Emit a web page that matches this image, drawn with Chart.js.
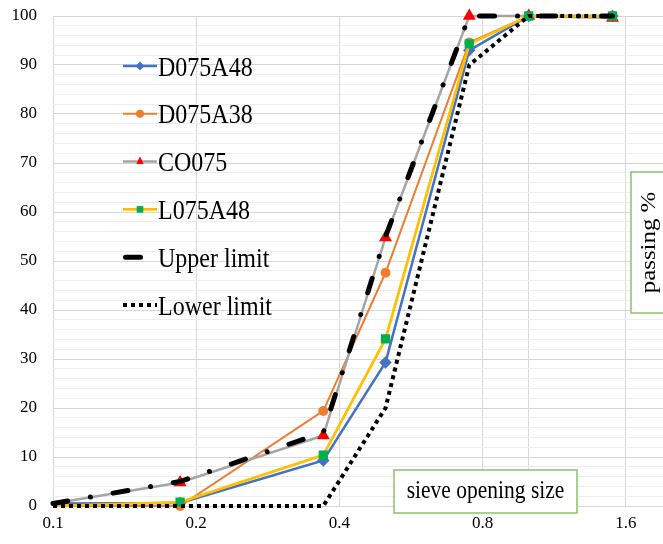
<!DOCTYPE html>
<html>
<head>
<meta charset="utf-8">
<title>Grading curves</title>
<script src="https://cdn.jsdelivr.net/npm/chart.js@4/dist/chart.umd.min.js"></script>
<style>
  html, body { margin: 0; padding: 0; background: #ffffff; overflow: hidden; }
  #wrap { width: 671px; height: 544px; }
</style>
</head>
<body>
<div id="wrap"><canvas id="chart" width="671" height="544"></canvas></div>
<script>
// Sieve opening sizes (mm) and percent passing for each mix
const sieveSizes = [0.1, 0.185, 0.37, 0.5, 0.75, 1.0, 1.5];
const D075A48 = [0.5, 0.6, 9.3, 29.3, 93, 100, 100];
const D075A38 = [0, 0, 19.4, 47.6, 94.6, 100, 100];
const CO075 = [0.5, 4.8, 14.4, 54.8, 100, 100, 99.6];
const L075A48 = [0, 0.8, 10.4, 34.1, 94.3, 100, 100];
const upperLimit = [0.5, 5, 15, 55, 100, 100, 100];
const lowerLimit = [0, 0, 0, 20, 90, 100, 100];

// Axis ticks
const xTickLabels = [0.1, 0.2, 0.4, 0.8, 1.6];
const xGridExtra = [1.0];
const yTickLabels = [0, 10, 20, 30, 40, 50, 60, 70, 80, 90, 100];

const SERIF = "'Liberation Serif', 'Times New Roman', serif";

function pts(values) {
  return sieveSizes.map((s, i) => ({ x: s, y: values[i] }));
}
// no marker on the first sieve, where the curves start on the axis
const hideFirst = (r) => (ctx) => (ctx.dataIndex === 0 ? 0 : r);

const datasets = [
  {
    label: 'D075A48', data: pts(D075A48), order: 5,
    borderColor: '#4472C4', backgroundColor: '#4472C4', borderWidth: 2.5,
    pointStyle: 'rectRot', pointRadius: hideFirst(4.5), mk: { shape: 'diamond', r: 4.5, fill: '#4472C4' }
  },
  {
    label: 'D075A38', data: pts(D075A38), order: 4,
    borderColor: '#ED7D31', backgroundColor: '#ED7D31', borderWidth: 2,
    pointStyle: 'circle', pointRadius: hideFirst(4), mk: { shape: 'circle', r: 4, fill: '#ED7D31' }
  },
  {
    label: 'CO075', data: pts(CO075), order: 3,
    borderColor: '#A5A5A5', backgroundColor: '#FF0000', pointBorderColor: '#FF0000', borderWidth: 2.5,
    pointStyle: 'triangle', pointRadius: hideFirst(5), mk: { shape: 'triangle', r: 5, fill: '#FF0000' }
  },
  {
    label: 'L075A48', data: pts(L075A48), order: 2,
    borderColor: '#FFC000', backgroundColor: '#00B050', pointBorderColor: '#00B050', borderWidth: 2.75,
    pointStyle: 'rect', pointRadius: hideFirst(4.6), mk: { shape: 'square', r: 3.3, fill: '#00B050' }
  },
  {
    label: 'Upper limit', data: pts(upperLimit), order: 0,
    borderColor: '#000000', backgroundColor: '#000000', borderWidth: 5,
    borderDash: [15, 23, 0.01, 23], borderCapStyle: 'round',
    pointRadius: 0, mk: null
  },
  {
    label: 'Lower limit', data: pts(lowerLimit), order: 1,
    borderColor: '#000000', backgroundColor: '#000000', borderWidth: 4,
    borderDash: [4, 4], borderCapStyle: 'butt',
    pointRadius: 0, mk: null
  }
];
datasets.forEach(d => { d.clip = false; d.tension = 0; d.pointHoverRadius = 0; d.fill = false; });

function drawMarker(ctx, mk, x, y) {
  ctx.save();
  ctx.fillStyle = mk.fill;
  ctx.beginPath();
  if (mk.shape === 'diamond') {
    ctx.moveTo(x, y - mk.r); ctx.lineTo(x + mk.r, y); ctx.lineTo(x, y + mk.r); ctx.lineTo(x - mk.r, y);
    ctx.closePath();
  } else if (mk.shape === 'circle') {
    ctx.arc(x, y, mk.r, 0, Math.PI * 2);
  } else if (mk.shape === 'triangle') {
    const h = mk.r * 1.5, w = mk.r * 0.87 * 1.7;
    ctx.moveTo(x, y - mk.r); ctx.lineTo(x + w / 2, y + h - mk.r); ctx.lineTo(x - w / 2, y + h - mk.r);
    ctx.closePath();
  } else {
    ctx.rect(x - mk.r, y - mk.r, mk.r * 2, mk.r * 2);
  }
  ctx.fill();
  ctx.restore();
}

// draws the legend block and the two boxed axis captions inside the plot
const overlayPlugin = {
  id: 'overlay',
  afterDraw(chart) {
    const ctx = chart.ctx;
    // legend
    const rowTop = 66, rowGap = 47.8, lineX0 = 123, lineX1 = 157, textX = 158;
    chart.data.datasets.forEach((ds, i) => {
      const cy = rowTop + i * rowGap;
      ctx.save();
      ctx.strokeStyle = ds.borderColor;
      ctx.lineWidth = ds.borderWidth;
      ctx.lineCap = ds.borderCapStyle || 'butt';
      ctx.setLineDash(ds.borderDash || []);
      ctx.beginPath();
      if (ds.borderCapStyle === 'round') {
        ctx.moveTo(lineX0 + 2.5, cy); ctx.lineTo(lineX1, cy);
      } else {
        ctx.moveTo(lineX0, cy); ctx.lineTo(lineX1, cy);
      }
      ctx.stroke();
      ctx.restore();
      if (ds.mk) drawMarker(ctx, ds.mk, 140, cy);
      ctx.save();
      ctx.fillStyle = '#000000';
      ctx.font = '24px ' + SERIF;
      ctx.textBaseline = 'alphabetic';
      ctx.translate(textX, cy + 9.5);
      ctx.scale(1, 1.18);
      ctx.fillText(ds.label, 0, 0);
      ctx.restore();
    });

    // x caption box
    ctx.save();
    ctx.fillStyle = '#ffffff';
    ctx.strokeStyle = '#8CC168';
    ctx.lineWidth = 1.5;
    ctx.fillRect(394, 470, 183, 43);
    ctx.strokeRect(394, 470, 183, 43);
    ctx.fillStyle = '#000000';
    ctx.font = '21.5px ' + SERIF;
    ctx.textAlign = 'center';
    ctx.textBaseline = 'alphabetic';
    ctx.translate(485.5, 498);
    ctx.scale(1, 1.15);
    ctx.fillText('sieve opening size', 0, 0);
    ctx.restore();

    // y caption box (rotated text)
    ctx.save();
    ctx.fillStyle = '#ffffff';
    ctx.strokeStyle = '#8CC168';
    ctx.lineWidth = 1.5;
    ctx.fillRect(631, 172, 45, 141);
    ctx.strokeRect(631, 172, 45, 141);
    ctx.fillStyle = '#000000';
    ctx.font = '22px ' + SERIF;
    ctx.textAlign = 'center';
    ctx.textBaseline = 'alphabetic';
    ctx.translate(655, 242.5);
    ctx.rotate(-Math.PI / 2);
    ctx.scale(1.13, 1);
    ctx.fillText('passing %', 0, 0);
    ctx.restore();
  }
};

new Chart(document.getElementById('chart'), {
  type: 'line',
  data: { datasets },
  plugins: [overlayPlugin],
  options: {
    responsive: false,
    animation: false,
    events: [],
    layout: { padding: { top: 16, right: 0, left: 0, bottom: 0 } },
    plugins: { legend: { display: false }, tooltip: { enabled: false } },
    scales: {
      x: {
        type: 'logarithmic',
        min: 0.1,
        max: 1.92,
        border: { display: false },
        grid: { color: '#d9d9d9', lineWidth: 1, drawTicks: false },
        afterBuildTicks: (scale) => {
          scale.ticks = xTickLabels.concat(xGridExtra).sort((a, b) => a - b).map(v => ({ value: v }));
        },
        afterFit: (scale) => {
          scale.height = 38;
          scale.paddingLeft = 0;
          scale.paddingRight = 0;
        },
        ticks: {
          autoSkip: false,
          maxRotation: 0,
          padding: 7,
          color: '#000000',
          font: { family: SERIF, size: 17 },
          callback: (v) => (xTickLabels.includes(v) ? String(v) : '')
        }
      },
      y: {
        type: 'linear',
        min: 0,
        max: 100,
        border: { display: false },
        grid: {
          drawTicks: false,
          lineWidth: 1,
          color: (c) => (c.tick && yTickLabels.includes(c.tick.value) ? '#d6d6d6' : '#ededed')
        },
        afterFit: (scale) => {
          scale.width = 53;
          scale.paddingTop = 0;
          scale.paddingBottom = 0;
        },
        ticks: {
          stepSize: 2,
          autoSkip: false,
          padding: 16,
          color: '#000000',
          font: { family: SERIF, size: 17 },
          callback: (v) => (yTickLabels.includes(v) ? String(v) : '')
        }
      }
    }
  }
});
</script>
</body>
</html>
